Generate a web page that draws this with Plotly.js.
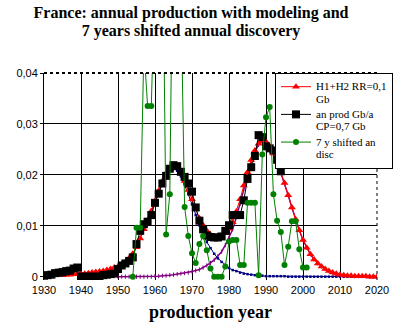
<!DOCTYPE html>
<html><head><meta charset="utf-8">
<script src="https://cdn.plot.ly/plotly-3.0.1.min.js"></script>
<style>html,body{margin:0;padding:0;background:#fff}#chart{width:404px;height:329px}</style>
</head><body><div id="chart"></div>
<script>
// ---- data ----
var yearsModel = [1930,1931,1932,1933,1934,1935,1936,1937,1938,1939,1940,1941,1942,1943,1944,1945,1946,1947,1948,1949,
  1950,1951,1952,1953,1954,1955,1956,1957,1958,1959,1960,1961,1962,1963,1964,1965,1966,1967,1968,1969,
  1970,1971,1972,1973,1974,1975,1976,1977,1978,1979,1980,1981,1982,1983,1984,1985,1986,1987,1988,1989,
  1990,1991,1992,1993,1994,1995,1996,1997,1998,1999,2000,2001,2002,2003,2004,2005,2006,2007,2008,2009,
  2010,2011,2012,2013,2014,2015,2016,2017,2018,2019,2020];
var modelH1H2 = [0.0002,0.0002,0.0002,0.0003,0.0003,0.0003,0.0004,0.0004,0.0005,0.0005,0.0006,0.0006,0.0007,0.0008,0.0009,0.0010,0.0011,0.0013,0.0015,0.0018,
  0.0020,0.0024,0.0029,0.0036,0.0045,0.0058,0.0075,0.0093,0.0111,0.0129,0.0149,0.0169,0.0188,0.0203,0.0213,0.0217,0.0213,0.0203,0.0188,0.0170,
  0.0152,0.0133,0.0115,0.0101,0.0090,0.0083,0.0079,0.0078,0.0080,0.0086,0.0094,0.0107,0.0128,0.0152,0.0179,0.0205,0.0229,0.0248,0.0261,0.0267,
  0.0265,0.0256,0.0242,0.0225,0.0205,0.0184,0.0160,0.0136,0.0113,0.0091,0.0072,0.0057,0.0044,0.0034,0.0026,0.0020,0.0015,0.0011,0.0008,0.0006,
  0.0004,0.0003,0.0002,0.0002,0.0001,0.0001,0.0001,0.0001,0.0000,0.0000,0.0000];
var modelH1 = [0.0002,0.0002,0.0002,0.0003,0.0003,0.0003,0.0004,0.0004,0.0005,0.0005,0.0006,0.0006,0.0007,0.0008,0.0009,0.0010,0.0011,0.0013,0.0015,0.0018,
  0.0020,0.0024,0.0029,0.0036,0.0045,0.0058,0.0075,0.0093,0.0111,0.0129,0.0148,0.0168,0.0186,0.0201,0.0210,0.0213,0.0208,0.0197,0.0181,0.0162,
  0.0142,0.0121,0.0101,0.0083,0.0068,0.0056,0.0045,0.0036,0.0029,0.0022,0.0017,0.0013,0.0011,0.0008,0.0006,0.0005,0.0004,0.0003,0.0002,0.0002,
  0.0001,0.0001,0.0001,0.0001,0.0001,0.0001,0.0000,0.0000,0.0000,0.0000,0.0000,0.0000,0.0000,0.0000,0.0000,0.0000,0.0000,0.0000,0.0000,0.0000,
  0.0000,0.0000,0.0000,0.0000,0.0000,0.0000,0.0000,0.0000,0.0000,0.0000,0.0000];
var yearsH2 = [1950,1951,1952,1953,1954,1955,1956,1957,1958,1959,1960,1961,1962,1963,1964,1965,1966,1967,1968,1969,
  1970,1971,1972,1973,1974,1975,1976,1977,1978,1979,1980,1981,1982,1983,1984,1985,1986,1987,1988,1989,
  1990,1991,1992,1993,1994,1995,1996,1997,1998,1999,2000,2001,2002,2003,2004,2005,2006,2007,2008,2009,
  2010,2011,2012,2013,2014,2015,2016,2017,2018,2019,2020];
var modelH2 = [0.0000,0.0000,0.0000,0.0000,0.0000,0.0000,0.0000,0.0000,0.0000,0.0000,0.0001,0.0001,0.0002,0.0002,0.0003,0.0004,0.0005,0.0006,0.0007,0.0008,
  0.0010,0.0012,0.0014,0.0018,0.0022,0.0027,0.0033,0.0040,0.0049,0.0062,0.0076,0.0093,0.0117,0.0143,0.0172,0.0200,0.0225,0.0245,0.0259,0.0265,
  0.0264,0.0255,0.0241,0.0224,0.0204,0.0183,0.0160,0.0136,0.0113,0.0091,0.0072,0.0057,0.0044,0.0034,0.0026,0.0020,0.0015,0.0011,0.0008,0.0006,
  0.0004,0.0003,0.0002,0.0002,0.0001,0.0001,0.0001,0.0001,0.0000,0.0000,0.0000];
var yearsProd = [1930,1931,1932,1933,1934,1935,1936,1937,1938,1939,1940,1941,1942,1943,1944,1945,1946,1947,1948,1949,
  1950,1951,1952,1953,1954,1955,1956,1957,1958,1959,1960,1961,1962,1963,1964,1965,1966,1967,1968,1969,
  1970,1971,1972,1973,1974,1975,1976,1977,1978,1979,1980,1981,1982,1983,1984,1985,1986,1987,1988,1989,
  1990,1991,1992,1993,1994];
var annualProd = [0.0002,0.0003,0.0004,0.0007,0.0008,0.0009,0.0011,0.0012,0.0016,0.0018,0.0000,0.0000,0.0000,0.0000,0.0000,0.0000,0.0003,0.0004,0.0005,0.0006,
  0.0015,0.0022,0.0026,0.0031,0.0038,0.0064,0.0090,0.0103,0.0108,0.0121,0.0145,0.0163,0.0183,0.0198,0.0212,0.0219,0.0217,0.0206,0.0196,0.0183,
  0.0167,0.0136,0.0110,0.0093,0.0081,0.0078,0.0077,0.0077,0.0079,0.0090,0.0101,0.0121,0.0121,0.0121,0.0150,0.0192,0.0215,0.0237,0.0278,0.0274,
  0.0256,0.0252,0.0248,0.0230,0.0207];
var yearsDisc = [1954,1955,1956,1957,1958,1959,1960,1961,1962,1963,1964,1965,1966,1967,1968,1969,
  1970,1971,1972,1973,1974,1975,1976,1977,1978,1979,1980,1981,1982,1983,1984,1985,1986,1987,1988,1989,
  1990,1991,1992,1993,1994,1995,1996,1997,1998,1999,2000,2001];
var shiftedDisc = [0.0000,0.0096,0.0096,0.0450,0.0335,0.0335,0.0600,0.0700,0.0730,0.0083,0.0162,0.0790,0.0700,0.0560,0.0137,0.0080,
  0.0046,0.0027,0.0064,0.0080,0.0052,0.0016,0.0000,0.0000,0.0000,0.0020,0.0069,0.0072,0.0072,0.0023,0.0023,0.0145,0.0145,0.0145,0.0003,0.0240,
  0.0313,0.0333,0.0162,0.0110,0.0088,0.0023,0.0059,0.0109,0.0109,0.0054,0.0018,0.0018];
var xTickVals = [1930,1940,1950,1960,1970,1980,1990,2000,2010,2020];
var xGridVals = [1940,1950,1960,1970,1980,1990,2000,2010];
var yTickVals = [0,0.01,0.02,0.03,0.04];
var yTickText = ['0','0,01','0,02','0,03','0,04'];
var yGridVals = [0.01,0.02,0.03];
var legendLines = [['H1+H2 RR=0,1','Gb'],['an prod Gb/a','CP=0,7 Gb'],['7 y shifted an','disc']];
var titleLines = ['France: annual production with modeling and', '7 years shifted annual discovery'];

function sized(lines, px) {
  return lines.map(function (s) { return '<span style="font-size:' + px + 'px">' + s + '</span>'; }).join('<br>');
}

var traces = [
  {x: yearsH2, y: modelH2, name: 'H2', mode: 'lines+markers', showlegend: false,
   line: {color: '#800080', width: 1.5}, marker: {symbol: 'line-ns', size: 3, line: {color: '#800080', width: 1}}},
  {x: yearsModel, y: modelH1, name: 'H1', mode: 'lines+markers', showlegend: false,
   line: {color: '#000080', width: 1}, marker: {symbol: 'square', size: 2.5, color: '#000080'}},
  {x: yearsModel, y: modelH1H2, name: sized(legendLines[0], 11), mode: 'lines+markers', legendrank: 1,
   line: {color: '#ff0000', width: 1}, marker: {symbol: 'triangle-up', size: 7, color: '#ff0000'}},
  {x: yearsProd, y: annualProd, name: sized(legendLines[1], 11), mode: 'lines+markers', legendrank: 2,
   line: {color: '#000000', width: 1}, marker: {symbol: 'square', size: 8, color: '#000000'}},
  {x: yearsDisc, y: shiftedDisc, name: sized(legendLines[2], 11), mode: 'lines+markers', legendrank: 3,
   line: {color: '#008000', width: 1}, marker: {symbol: 'circle', size: 6, color: '#008000'}}
];

var serif = 'Liberation Serif, Times New Roman, serif';
var sans = 'Liberation Sans, Arial, sans-serif';
var layout = {
  width: 404, height: 329,
  margin: {l: 44, r: 27, t: 73, b: 49, autoexpand: false},
  paper_bgcolor: '#ffffff', plot_bgcolor: '#ffffff',
  showlegend: true,
  title: {text: '<b>' + sized(titleLines, 16) + '</b>',
    font: {family: serif, size: 13.85, color: '#000'}, xref: 'container', x: 0.4728, xanchor: 'center',
    yref: 'container', y: 0.945, yanchor: 'top'},
  xaxis: {range: [1930, 2020], tickmode: 'array', tickvals: xTickVals, showgrid: false, zeroline: false,
    showline: false, ticks: '', ticklabelstandoff: 2, tickfont: {family: sans, size: 11, color: '#000'},
    minor: {tickmode: 'array', tickvals: xGridVals, showgrid: true, gridcolor: '#000', gridwidth: 1, ticks: ''},
    title: {text: '<b>production year</b>', font: {family: serif, size: 18, color: '#000'}, standoff: 10}},
  yaxis: {range: [-0.00065, 0.04], tickmode: 'array', tickvals: yTickVals, ticktext: yTickText, showgrid: false,
    zeroline: false, showline: true, linecolor: '#000', linewidth: 1, ticks: 'outside', ticklen: 3, tickcolor: '#000',
    tickfont: {family: sans, size: 11, color: '#000'},
    minor: {tickmode: 'array', tickvals: yGridVals, showgrid: true, gridcolor: '#000', gridwidth: 1, ticks: ''}},
  legend: {x: 0.6937, y: 1, xanchor: 'left', yanchor: 'top', bgcolor: '#fff', bordercolor: '#000', borderwidth: 1,
    font: {family: serif, size: 9.5, color: '#000'}, itemwidth: 30, tracegroupgap: 0, valign: 'top'},
  shapes: [
    {type: 'line', xref: 'paper', yref: 'paper', x0: 0, x1: 1, y0: 1, y1: 1, line: {color: '#000', width: 2, dash: 'dot'}},
    {type: 'line', xref: 'paper', yref: 'paper', x0: 1, x1: 1, y0: 0, y1: 1, line: {color: '#000', width: 1, dash: 'dot'}}
  ]
};
Plotly.newPlot('chart', traces, layout, {displayModeBar: false, staticPlot: true});
</script></body></html>
